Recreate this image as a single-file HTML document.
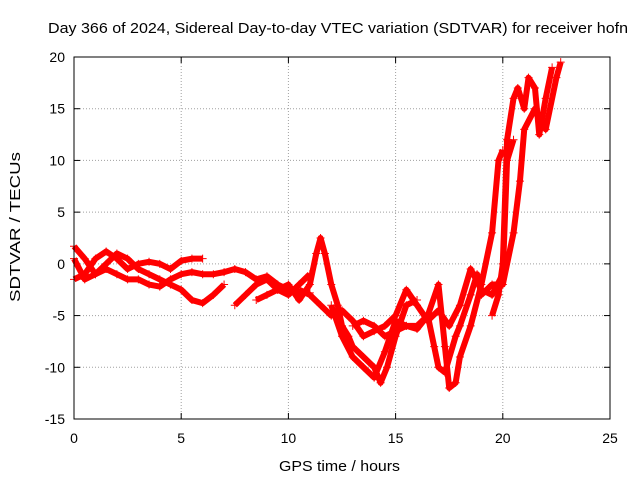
<!DOCTYPE html>
<html><head><meta charset="utf-8"><style>
html,body{margin:0;padding:0;background:#fff;}
svg{display:block;font-family:"Liberation Sans",sans-serif;}
</style></head><body>
<svg id="chart" width="640" height="480">
<text x="48" y="33" font-size="15" textLength="580" lengthAdjust="spacingAndGlyphs">Day 366 of 2024, Sidereal Day-to-day VTEC variation (SDTVAR) for receiver hofn</text>
<g id="grid"></g>
<g id="ticks"></g>
<g id="series"></g>
<rect x="74" y="57" width="536" height="362" fill="none" stroke="#000" stroke-width="1"/>
<text x="279" y="471" font-size="15" textLength="121" lengthAdjust="spacingAndGlyphs">GPS time / hours</text>
<text transform="translate(20,302) rotate(-90)" font-size="15" textLength="150" lengthAdjust="spacingAndGlyphs">SDTVAR / TECUs</text>
</svg>
<script>
const xTicks=[0,5,10,15,20,25];
const yTicks=[-15,-10,-5,0,5,10,15,20];
const track1=[[0,1.7],[0.5,0.5],[1,-1],[1.5,0],[2,1],[2.5,0.5],[3,-0.5],[3.5,-1],[4,-1.5],[4.5,-2],[5,-2.5],[5.5,-3.5],[6,-3.8],[6.5,-3],[7,-2]];
const track2=[[0,-1.5],[0.5,-1],[1,0.5],[1.5,1.2],[2,0.5],[2.5,-0.5],[3,0],[3.5,0.2],[4,0],[4.5,-0.5],[5,0.3],[5.5,0.5],[6,0.5]];
const track3=[[0,0.5],[0.5,-1.5],[1,-1],[1.5,-0.5],[2,-1],[2.5,-1.5],[3,-1.5],[3.5,-2],[4,-2.2],[4.5,-1.5],[5,-1],[5.5,-0.8],[6,-1],[6.5,-1],[7,-0.8],[7.5,-0.5],[8,-0.8],[8.5,-1.5],[9,-1.2],[9.5,-2],[10,-2.5],[10.5,-2.7],[11,-2.8]];
const track4=[[7.5,-4],[8,-3],[8.5,-2],[9,-1.5],[9.5,-2.5],[10,-3],[10.5,-2],[11,-1]];
const track5=[[8.5,-3.5],[9,-3],[9.5,-2.5],[10,-2],[10.5,-3.5],[11,-2],[11.3,1],[11.5,2.5],[11.7,1],[12,-2],[12.3,-4],[12.5,-6],[12.8,-7],[13,-8],[13.5,-9],[14,-10],[14.3,-11.5],[14.6,-10],[15,-7],[15.5,-4],[16,-3.5]];
const track6=[[10.5,-2.5],[11,-3],[11.5,-4],[12,-5],[12.5,-4.5],[13,-5.5],[13.5,-7],[14,-6.5],[14.5,-6],[15,-5],[15.5,-2.5],[16,-4],[16.5,-5.5],[17,-4.5],[17.5,-6],[18,-4],[18.5,-0.5],[19,-2.5],[19.5,-3],[20,-1],[20.2,10],[20.5,12]];
const track7=[[12,-4],[12.5,-7],[13,-9],[13.5,-10],[14,-11],[14.5,-8.5],[15,-5.5],[15.5,-6],[16,-6],[16.5,-5],[17,-2],[17.3,-8],[17.5,-12],[17.8,-11.5],[18,-9],[18.5,-6],[19,-2],[19.5,3],[19.8,10],[20,11]];
const track8=[[13,-6],[13.5,-5.5],[14,-6],[14.5,-7],[15,-6.5],[15.5,-6],[16,-6.3],[16.5,-5],[16.8,-8],[17,-10],[17.3,-10.5],[17.8,-7],[18,-6],[18.5,-3],[18.8,-1],[19,-3],[19.5,-2],[20,-2],[20.5,3],[20.8,8],[21,13],[21.5,15],[22,13],[22.5,18],[22.7,19.5]];
const track9=[[19.5,-5],[19.8,-3],[20,0],[20.2,12],[20.5,16],[20.7,17],[21,15],[21.2,18],[21.5,17],[21.7,12.5],[22,16],[22.3,19]];
const tracks=[track1,track2,track3,track4,track5,track6,track7,track8,track9];

const X0=74,X1=610,Y0=419,Y1=57,xmin=0,xmax=25,ymin=-15,ymax=20;
const sx=v=>X0+(v-xmin)/(xmax-xmin)*(X1-X0);
const sy=v=>Y0-(v-ymin)/(ymax-ymin)*(Y0-Y1);
const NS="http://www.w3.org/2000/svg";
function mk(tag,attrs,parent){const e=document.createElementNS(NS,tag);for(const k in attrs)e.setAttribute(k,attrs[k]);parent.appendChild(e);return e;}
const grid=document.getElementById('grid'),ticks=document.getElementById('ticks'),series=document.getElementById('series');
xTicks.forEach(t=>{const x=sx(t);
 if(t>xmin&&t<xmax){const g=mk('line',{x1:x,x2:x,y1:Y1,y2:Y0,stroke:'#a0a0a0','stroke-dasharray':'1,2'},grid);
 }
 mk('line',{x1:x,x2:x,y1:Y0,y2:Y0-6,stroke:'#000'},ticks);mk('line',{x1:x,x2:x,y1:Y1,y2:Y1+6,stroke:'#000'},ticks);
 const l=mk('text',{x:x,y:Y0+24,'font-size':14,'text-anchor':'middle'},ticks);l.textContent=t;
 });
yTicks.forEach(t=>{const y=sy(t);
 if(t>ymin&&t<ymax){const g=mk('line',{x1:X0,x2:X1,y1:y,y2:y,stroke:'#a0a0a0','stroke-dasharray':'1,2'},grid);
 }
 mk('line',{x1:X0,x2:X0+6,y1:y,y2:y,stroke:'#000'},ticks);mk('line',{x1:X1,x2:X1-6,y1:y,y2:y,stroke:'#000'},ticks);
 const l=mk('text',{x:X0-9,y:y+5,'font-size':14,'text-anchor':'end'},ticks);l.textContent=t;
 });
tracks.forEach((tr,i)=>{
 const p=mk('polyline',{points:tr.map(d=>sx(d[0])+','+sy(d[1])).join(' '),fill:'none',stroke:'#f00','stroke-width':6,'stroke-linejoin':'round'},series);
 
 
 tr.forEach(d=>{const x=sx(d[0]),y=sy(d[1]);
  const m=mk('path',{d:`M${x-4},${y}H${x+4}M${x},${y-4}V${y+4}`,stroke:'#f00','stroke-width':1},series);
  
  });
});
</script>
</body></html>
